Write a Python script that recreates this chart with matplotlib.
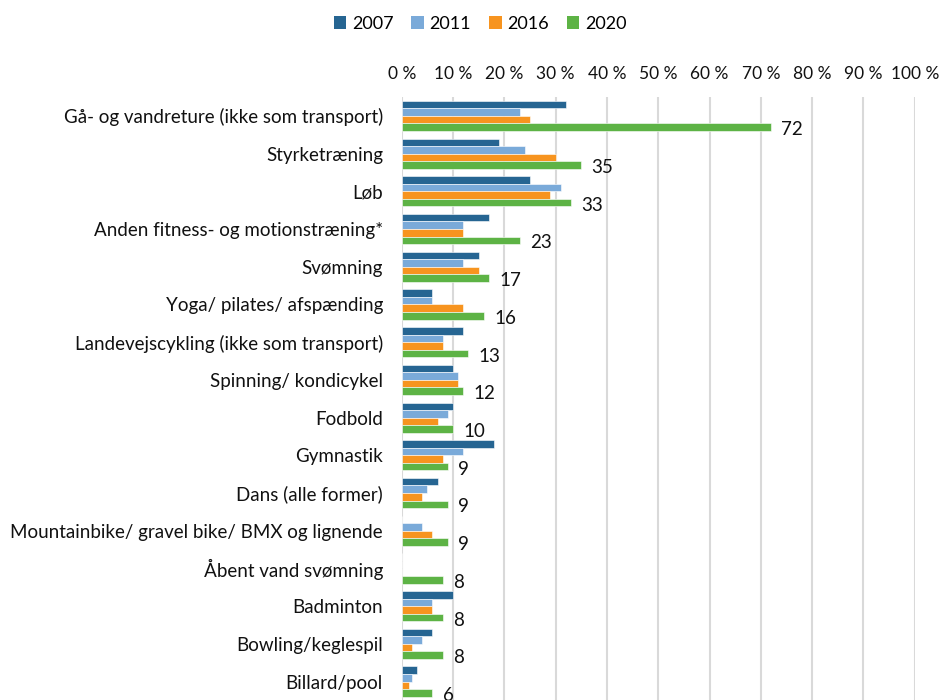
import matplotlib
matplotlib.use("Agg")
import matplotlib.pyplot as plt
import numpy as np
from matplotlib.patches import Patch

categories = [
    "Gå- og vandreture (ikke som transport)",
    "Styrketræning",
    "Løb",
    "Anden fitness- og motionstræning*",
    "Svømning",
    "Yoga/ pilates/ afspænding",
    "Landevejscykling (ikke som transport)",
    "Spinning/ kondicykel",
    "Fodbold",
    "Gymnastik",
    "Dans (alle former)",
    "Mountainbike/ gravel bike/ BMX og lignende",
    "Åbent vand svømning",
    "Badminton",
    "Bowling/keglespil",
    "Billard/pool",
]
years = ["2007", "2011", "2016", "2020"]
v2007 = [32, 19, 25, 17, 15, 6, 12, 10, 10, 18, 7, np.nan, np.nan, 10, 6, 3]
v2011 = [23, 24, 31, 12, 12, 6, 8, 11, 9, 12, 5, 4, np.nan, 6, 4, 2]
v2016 = [25, 30, 29, 12, 15, 12, 8, 11, 7, 8, 4, 6, np.nan, 6, 2, 1.5]
v2020 = [72, 35, 33, 23, 17, 16, 13, 12, 10, 9, 9, 9, 8, 8, 8, 6]
ticks = [0, 10, 20, 30, 40, 50, 60, 70, 80, 90, 100]
colors = ["#266592", "#7aaad9", "#f7941f", "#5db345"]

plt.rcParams['font.family'] = ['Lato', 'DejaVu Sans']

fig = plt.figure(figsize=(9.41, 7.0), dpi=100)
ax = fig.add_axes([401.7/941, -0.0114, 513/941, 0.8728])

series = [v2007, v2011, v2016, v2020]
n = len(categories)
y = np.arange(n)
h = 0.2
for i, (vals, c) in enumerate(zip(series, colors)):
    vals = np.array(vals, dtype=float)
    ax.barh(y - 0.3 + i*h, np.nan_to_num(vals), height=h, color=c,
            edgecolor='white', linewidth=0.4, zorder=3)

for yi, v in zip(y, v2020):
    ax.text(v + 2.0, yi + 0.3 + 0.07, f"{v:g}", va='center', ha='left',
            fontsize=13.5, color='#111111')

ax.set_xlim(0, 100)
ax.set_ylim(n - 0.5 + 0.2, -0.5)
ax.set_yticks(y)
ax.set_yticklabels(categories, fontsize=13.5, color='#111111')
ax.set_xticks(ticks)
ax.set_xticklabels([f"{t} %" for t in ticks], fontsize=12.5, color='#111111')
ax.xaxis.tick_top()
ax.tick_params(axis='both', length=0)
ax.tick_params(axis='x', pad=10.5)
ax.tick_params(axis='y', pad=13.5)
for s in ax.spines.values():
    s.set_visible(False)
ax.grid(axis='x', color='#d9d9d9', linewidth=1.5, zorder=0)
ax.set_axisbelow(True)

handles = [Patch(facecolor=c, label=yv) for c, yv in zip(colors, years)]
fig.legend(handles=handles, loc='center', bbox_to_anchor=(480/941, 1 - 24/700),
           ncol=4, frameon=False, fontsize=13, handlelength=0.7, handleheight=0.7,
           handletextpad=0.3, columnspacing=1.0)

fig.savefig("out.png", dpi=100)
